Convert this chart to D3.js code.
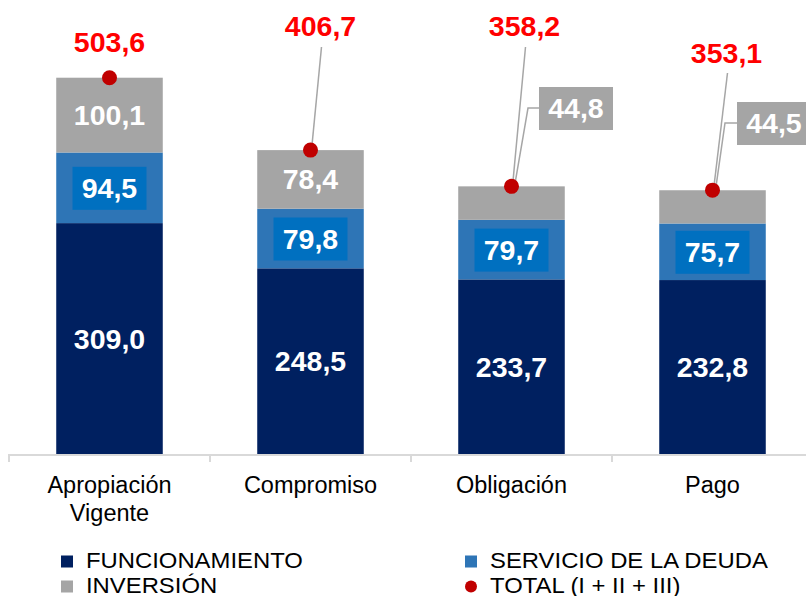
<!DOCTYPE html>
<html>
<head>
<meta charset="utf-8">
<script src="https://cdn.jsdelivr.net/npm/d3@7"></script>
<style>
  html, body { margin: 0; padding: 0; background: #ffffff; }
  svg { display: block; font-family: "Liberation Sans", Arial, sans-serif; }
</style>
</head>
<body>
<svg id="chart" width="806" height="596"></svg>
<script>
// ---- Data ----
const categories = ["Apropiación Vigente", "Compromiso", "Obligación", "Pago"];
const categoryLines = [["Apropiación", "Vigente"], ["Compromiso"], ["Obligación"], ["Pago"]];
const funcionamiento = [309.0, 248.5, 233.7, 232.8];
const servicioDeuda = [94.5, 79.8, 79.7, 75.7];
const inversion = [100.1, 78.4, 44.8, 44.5];
const total = [503.6, 406.7, 358.2, 353.1];
const legendLabels = ["FUNCIONAMIENTO", "SERVICIO DE LA DEUDA", "INVERSIÓN", "TOTAL (I + II + III)"];

const fmt = v => v.toFixed(1).replace(".", ",");

// ---- Styles / layout ----
const colors = { func: "#002060", serv: "#2e75b6", servBox: "#0070c0", inv: "#a5a5a5",
                 dot: "#c00000", totalText: "#ff0000", leader: "#a6a6a6", axis: "#d9d9d9" };
const baseY = 454;

const svg = d3.select("#chart");

const x = d3.scaleBand().domain(categories).range([9, 813])
  .paddingInner(0.47).paddingOuter(0.235);
const y = d3.scaleLinear().domain([0, 600]).range([baseY, baseY - 600 * 0.7472]);

const stackData = categories.map((c, i) => ({
  cat: c, func: funcionamiento[i], serv: servicioDeuda[i], inv: inversion[i], total: total[i], i
}));
const stack = d3.stack().keys(["func", "serv", "inv"]);
const series = stack(stackData);
const fillFor = { func: colors.func, serv: colors.serv, inv: colors.inv };

// bars
svg.append("g").selectAll("g").data(series).join("g")
  .attr("fill", s => fillFor[s.key])
  .selectAll("rect").data(s => s.map(d => Object.assign(d, { key: s.key }))).join("rect")
  .attr("x", d => x(d.data.cat))
  .attr("width", x.bandwidth())
  .attr("y", d => y(d[1]))
  .attr("height", d => y(d[0]) - y(d[1]));

// axis line and ticks
const axisG = svg.append("g");
axisG.append("line").attr("x1", 9).attr("x2", 806).attr("y1", baseY + 1).attr("y2", baseY + 1)
  .attr("stroke", colors.axis).attr("stroke-width", 2);
categories.forEach(c => {
  const bx = x(c) - x.step() * x.paddingOuter();
  axisG.append("line").attr("x1", bx).attr("x2", bx).attr("y1", baseY).attr("y2", baseY + 8)
    .attr("stroke", colors.axis).attr("stroke-width", 2);
});

// category labels
categories.forEach((c, i) => {
  const t = svg.append("text").attr("text-anchor", "middle").attr("font-size", 23.5)
    .attr("fill", "#000");
  categoryLines[i].forEach((ln, j) => {
    t.append("tspan").attr("x", x(c) + x.bandwidth() / 2).attr("y", 493 + j * 28).text(ln);
  });
});

const cx = c => x(c) + x.bandwidth() / 2;

// segment labels: funcionamiento
series[0].forEach(d => {
  svg.append("text").attr("x", cx(d.data.cat)).attr("y", (y(d[0]) + y(d[1])) / 2 + 10)
    .attr("text-anchor", "middle").attr("font-size", 28.5).attr("font-weight", "bold")
    .attr("fill", "#fff").text(fmt(d.data.func));
});
// servicio labels with box
series[1].forEach(d => {
  const my = (y(d[0]) + y(d[1])) / 2;
  const txt = fmt(d.data.serv);
  svg.append("rect").attr("x", cx(d.data.cat) - 37).attr("y", my - 21).attr("width", 74).attr("height", 43)
    .attr("fill", colors.servBox);
  svg.append("text").attr("x", cx(d.data.cat)).attr("y", my + 10)
    .attr("text-anchor", "middle").attr("font-size", 28.5).attr("font-weight", "bold")
    .attr("fill", "#fff").text(txt);
});
// inversion labels: inside for first two, callout boxes for the rest
const invCallout = [null, null, { bx: 539, by: 87, elbowX: 528 }, { bx: 737, by: 102, elbowX: 725 }];
series[2].forEach((d, i) => {
  const c = d.data.cat;
  if (!invCallout[i]) {
    svg.append("text").attr("x", cx(c)).attr("y", (y(d[0]) + y(d[1])) / 2 + 10)
      .attr("text-anchor", "middle").attr("font-size", 28.5).attr("font-weight", "bold")
      .attr("fill", "#fff").text(fmt(d.data.inv));
  } else {
    const o = invCallout[i];
    const ty = y(d.data.total);
    svg.append("polyline")
      .attr("points", [[o.bx, o.by + 21], [o.elbowX, o.by + 21], [cx(c) + 3, ty]].map(p => p.join(",")).join(" "))
      .attr("fill", "none").attr("stroke", colors.leader).attr("stroke-width", 1.5);
    svg.append("rect").attr("x", o.bx).attr("y", o.by).attr("width", 74).attr("height", 43)
      .attr("fill", colors.inv);
    svg.append("text").attr("x", o.bx + 37).attr("y", o.by + 31)
      .attr("text-anchor", "middle").attr("font-size", 28.5).attr("font-weight", "bold")
      .attr("fill", "#fff").text(fmt(d.data.inv));
  }
});

// total labels with leaders
const totalLabelPos = [{ dx: 0, by: 52, leader: false }, { dx: 10, by: 36, leader: true, ly: 47 },
                       { dx: 13, by: 36, leader: true, ly: 47 }, { dx: 14, by: 63, leader: true, ly: 73 }];
stackData.forEach((d, i) => {
  const p = totalLabelPos[i];
  const px = cx(d.cat), py = y(d.total);
  if (p.leader) {
    svg.append("line").attr("x1", px + p.dx + 1).attr("y1", p.ly).attr("x2", px + 1).attr("y2", py)
      .attr("stroke", colors.leader).attr("stroke-width", 1.5);
  }
  svg.append("text").attr("x", px + p.dx).attr("y", p.by)
    .attr("text-anchor", "middle").attr("font-size", 28.5).attr("font-weight", "bold")
    .attr("fill", colors.totalText).text(fmt(d.total));
});
// total dots
svg.append("g").selectAll("circle").data(stackData).join("circle")
  .attr("cx", d => cx(d.cat)).attr("cy", d => y(d.total)).attr("r", 7.5)
  .attr("fill", colors.dot);

// legend
const legendItems = [
  { label: legendLabels[0], color: colors.func, shape: "rect", x: 61, y: 567.5 },
  { label: legendLabels[1], color: colors.serv, shape: "rect", x: 465, y: 567.5 },
  { label: legendLabels[2], color: colors.inv, shape: "rect", x: 61, y: 592.5 },
  { label: legendLabels[3], color: colors.dot, shape: "circle", x: 465, y: 592.5 }
];
const lg = svg.append("g");
legendItems.forEach(it => {
  if (it.shape === "rect") {
    lg.append("rect").attr("x", it.x).attr("y", it.y - 12).attr("width", 12).attr("height", 12).attr("fill", it.color);
  } else {
    lg.append("circle").attr("cx", it.x + 6).attr("cy", it.y - 6).attr("r", 6).attr("fill", it.color);
  }
  lg.append("text").attr("transform", `translate(${it.x + 25},${it.y}) scale(1.07,1)`)
    .attr("font-size", 22.3).attr("fill", "#000")
    .text(it.label);
});
</script>
</body>
</html>
